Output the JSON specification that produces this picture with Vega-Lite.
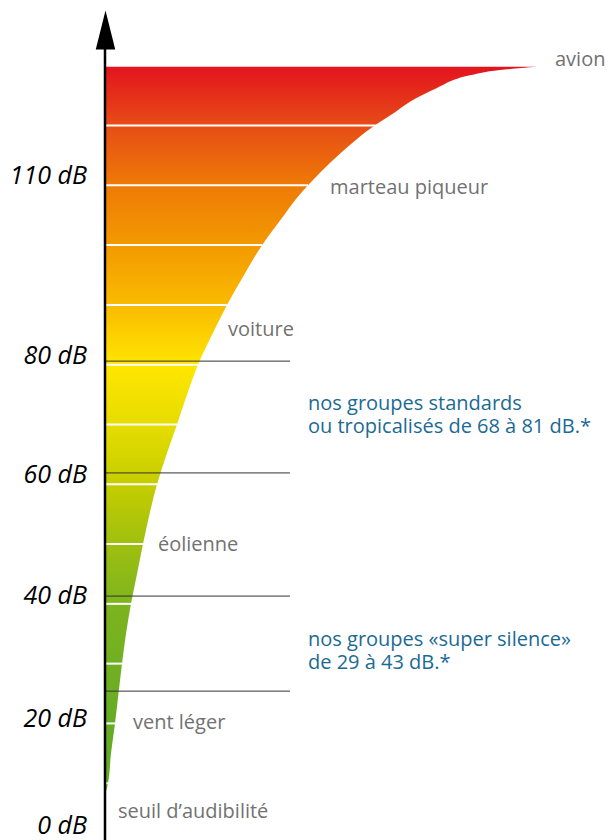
{
  "$schema": "https://vega.github.io/schema/vega-lite/v6.json",
  "width": 608,
  "height": 840,
  "autosize": {"type": "none"},
  "padding": 0,
  "background": "white",
  "config": {"view": {"stroke": null}},
  "datasets": {
    "curve": [
      {"db": 8.6, "x": 106}, {"db": 10, "x": 108}, {"db": 15, "x": 111}, {"db": 20, "x": 115},
      {"db": 25, "x": 118.5}, {"db": 30, "x": 122}, {"db": 35, "x": 126}, {"db": 40, "x": 131},
      {"db": 45, "x": 137}, {"db": 50, "x": 143}, {"db": 55, "x": 149.5}, {"db": 60, "x": 157},
      {"db": 65, "x": 166.5}, {"db": 70, "x": 177}, {"db": 75, "x": 187}, {"db": 80, "x": 198},
      {"db": 85, "x": 212}, {"db": 90, "x": 227}, {"db": 95, "x": 244}, {"db": 100, "x": 262},
      {"db": 105, "x": 284}, {"db": 107.5, "x": 295}, {"db": 110, "x": 308}, {"db": 115, "x": 338},
      {"db": 120.4, "x": 378}, {"db": 121.9, "x": 392}, {"db": 124, "x": 410}, {"db": 126.3, "x": 437},
      {"db": 128.4, "x": 470}, {"db": 129.3, "x": 500}, {"db": 129.85, "x": 537}
    ],
    "whiteLines": [
      {"db": 10, "x": 106, "x2": 108}, {"db": 20, "x": 106, "x2": 115}, {"db": 30, "x": 106, "x2": 122},
      {"db": 40, "x": 106, "x2": 131}, {"db": 50, "x": 106, "x2": 143}, {"db": 60, "x": 106, "x2": 157},
      {"db": 70, "x": 106, "x2": 177}, {"db": 80, "x": 106, "x2": 198}, {"db": 90, "x": 106, "x2": 227},
      {"db": 100, "x": 106, "x2": 262}, {"db": 110, "x": 106, "x2": 308}, {"db": 120, "x": 106, "x2": 378}
    ],
    "blackLines": [
      {"db": 80.6, "x": 105, "x2": 290}, {"db": 61.9, "x": 105, "x2": 290},
      {"db": 41.3, "x": 105, "x2": 290}, {"db": 25.4, "x": 105, "x2": 290}
    ],
    "axisLabels": [
      {"db": 2.9, "x": 87, "label": "0 dB"}, {"db": 20.7, "x": 87, "label": "20 dB"},
      {"db": 41.3, "x": 87, "label": "40 dB"}, {"db": 61.5, "x": 87, "label": "60 dB"},
      {"db": 81.4, "x": 87, "label": "80 dB"}, {"db": 111.5, "x": 87, "label": "110 dB"}
    ],
    "sources": [
      {"db": 130.9, "x": 555, "label": "avion"},
      {"db": 109.5, "x": 330, "label": "marteau piqueur"},
      {"db": 85.8, "x": 228, "label": "voiture"},
      {"db": 49.8, "x": 158, "label": "éolienne"},
      {"db": 20.1, "x": 133, "label": "vent léger"},
      {"db": 5.2, "x": 118, "label": "seuil d’audibilité"}
    ],
    "notes": [
      {"db": 73.4, "x": 308, "label": "nos groupes standards\nou tropicalisés de 68 à 81 dB.*"},
      {"db": 33.9, "x": 308, "label": "nos groupes «super silence»\nde 29 à 43 dB.*"}
    ],
    "axisLine": [{"db": 136, "x": 105, "y2": 0.5}],
    "arrow": [{"db": 136, "x": 105.5}]
  },
  "encoding": {
    "y": {"field": "db", "type": "quantitative", "scale": {"domain": [0.5, 141], "nice": false, "zero": false}, "axis": null},
    "x": {"field": "x", "type": "quantitative", "scale": {"domain": [0, 608], "nice": false, "zero": false}, "axis": null}
  },
  "layer": [
    {
      "data": {"name": "curve"},
      "mark": {
        "type": "area",
        "orient": "horizontal",
        "interpolate": "monotone",
        "color": {
          "gradient": "linear", "x1": 0, "y1": 1, "x2": 0, "y2": 0,
          "stops": [
            {"offset": 0, "color": "#63aa26"},
            {"offset": 0.092, "color": "#66ab25"},
            {"offset": 0.257, "color": "#7db41e"},
            {"offset": 0.339, "color": "#9ebf10"},
            {"offset": 0.422, "color": "#c4cd00"},
            {"offset": 0.505, "color": "#e6dc00"},
            {"offset": 0.587, "color": "#ffe600"},
            {"offset": 0.67, "color": "#f9bb00"},
            {"offset": 0.752, "color": "#f39a00"},
            {"offset": 0.835, "color": "#ee7b06"},
            {"offset": 0.917, "color": "#e74e16"},
            {"offset": 1, "color": "#e3131e"}
          ]
        }
      },
      "encoding": {"x2": {"datum": 106}}
    },
    {
      "data": {"name": "whiteLines"},
      "mark": {"type": "rule", "color": "white", "strokeWidth": 2},
      "encoding": {"x2": {"field": "x2"}}
    },
    {
      "data": {"name": "blackLines"},
      "mark": {"type": "rule", "color": "#333333", "strokeWidth": 1},
      "encoding": {"x2": {"field": "x2"}}
    },
    {
      "data": {"name": "axisLine"},
      "mark": {"type": "rule", "color": "black", "strokeWidth": 2.5},
      "encoding": {"y2": {"field": "y2"}}
    },
    {
      "data": {"name": "arrow"},
      "mark": {"type": "point", "shape": "M0,-1L0.5,1L-0.5,1Z", "size": 1521, "filled": true, "color": "black", "opacity": 1},
      "encoding": {}
    },
    {
      "data": {"name": "axisLabels"},
      "mark": {"type": "text", "align": "right", "baseline": "middle", "font": "Open Sans", "fontStyle": "italic", "fontSize": 25, "color": "black"},
      "encoding": {"text": {"field": "label"}}
    },
    {
      "data": {"name": "sources"},
      "mark": {"type": "text", "align": "left", "baseline": "middle", "font": "Open Sans", "fontSize": 20, "color": "#727272"},
      "encoding": {"text": {"field": "label"}}
    },
    {
      "data": {"name": "notes"},
      "mark": {"type": "text", "align": "left", "baseline": "middle", "lineBreak": "\n", "lineHeight": 23, "font": "Open Sans", "fontSize": 20, "color": "#1b6a93"},
      "encoding": {"text": {"field": "label"}}
    }
  ]
}
